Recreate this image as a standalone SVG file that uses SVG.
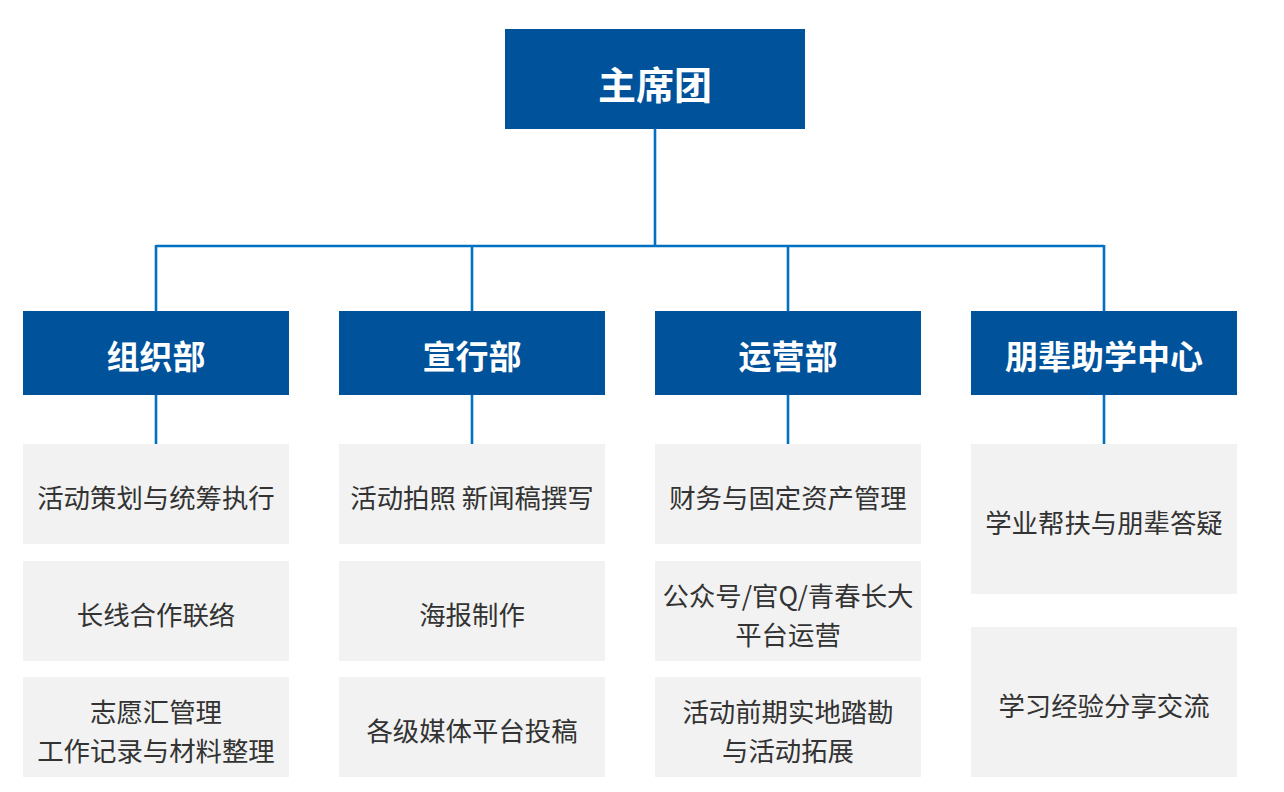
<svg xmlns="http://www.w3.org/2000/svg" width="1284" height="792" viewBox="0 0 1284 792">
<style>
.hd{fill:#00529B}
.it{fill:#F2F2F2}
.t{font-family:"Noto Sans CJK SC","Noto Sans",sans-serif;text-anchor:middle;dominant-baseline:central}
.ht{fill:#fff;font-weight:bold;font-size:33px}
.top{font-size:38px}
.tx{fill:#333;font-size:26.4px}
.ln{stroke:#0070C0;stroke-width:2.6;fill:none}
</style>
<rect width="1284" height="792" fill="#fff"/>
<g id="connectors">
<path class="ln" d="M655 128V246M156 246H1104M156 245V311M472 245V311M788 245V311M1104 245V311M156 394V444M472 394V444M788 394V444M1104 394V444"/>
</g>
<g id="top"><rect class="hd" x="505" y="29" width="300" height="100"/><text class="t ht top" x="655" y="82">主席团</text></g>
<g id="dept1"><rect class="hd" x="23" y="311" width="266" height="84"/><text class="t ht" x="156" y="355">组织部</text></g>
<g id="dept2"><rect class="hd" x="339" y="311" width="266" height="84"/><text class="t ht" x="472" y="355">宣行部</text></g>
<g id="dept3"><rect class="hd" x="655" y="311" width="266" height="84"/><text class="t ht" x="788" y="355">运营部</text></g>
<g id="dept4"><rect class="hd" x="971" y="311" width="266" height="84"/><text class="t ht" x="1104" y="355">朋辈助学中心</text></g>

<g id="c1r1"><rect class="it" x="23" y="444" width="266" height="100"/><text class="t tx" x="156" y="496">活动策划与统筹执行</text></g>
<g id="c1r2"><rect class="it" x="23" y="561" width="266" height="100"/><text class="t tx" x="156" y="613">长线合作联络</text></g>
<g id="c1r3"><rect class="it" x="23" y="677" width="266" height="100"/><text class="t tx" x="156" y="710">志愿汇管理</text><text class="t tx" x="156" y="749">工作记录与材料整理</text></g>

<g id="c2r1"><rect class="it" x="339" y="444" width="266" height="100"/><text class="t tx" x="472" y="496">活动拍照 新闻稿撰写</text></g>
<g id="c2r2"><rect class="it" x="339" y="561" width="266" height="100"/><text class="t tx" x="472" y="613">海报制作</text></g>
<g id="c2r3"><rect class="it" x="339" y="677" width="266" height="100"/><text class="t tx" x="472" y="729">各级媒体平台投稿</text></g>

<g id="c3r1"><rect class="it" x="655" y="444" width="266" height="100"/><text class="t tx" x="788" y="496">财务与固定资产管理</text></g>
<g id="c3r2"><rect class="it" x="655" y="561" width="266" height="100"/><text class="t tx" x="788" y="594">公众号/官Q/青春长大</text><text class="t tx" x="788" y="633">平台运营</text></g>
<g id="c3r3"><rect class="it" x="655" y="677" width="266" height="100"/><text class="t tx" x="788" y="710">活动前期实地踏勘</text><text class="t tx" x="788" y="749">与活动拓展</text></g>

<g id="c4r1"><rect class="it" x="971" y="444" width="266" height="150"/><text class="t tx" x="1104" y="521">学业帮扶与朋辈答疑</text></g>
<g id="c4r2"><rect class="it" x="971" y="627" width="266" height="150"/><text class="t tx" x="1104" y="704">学习经验分享交流</text></g>
</svg>
